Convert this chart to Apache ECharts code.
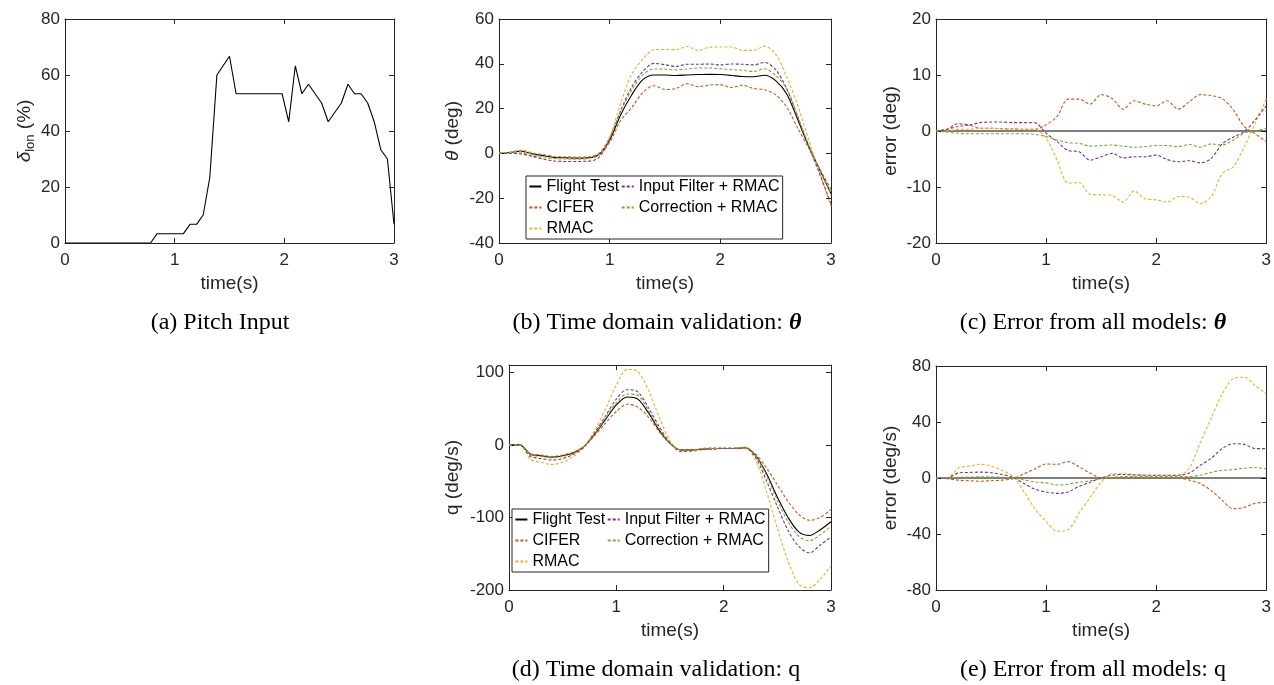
<!DOCTYPE html>
<html>
<head>
<meta charset="utf-8">
<script src="https://cdn.jsdelivr.net/npm/echarts@6/dist/echarts.min.js"></script>
<style>html,body{margin:0;padding:0;background:#fff}#c{width:1274px;height:685px}</style>
</head>
<body>
<div id="c"></div>
<script>
// ---------- DATA ----------
// (a) pitch input
const tA = [0, 0.78, 0.84, 1.08, 1.14, 1.2, 1.26, 1.32, 1.385, 1.5, 1.56, 1.98, 2.04, 2.1, 2.16, 2.22, 2.34, 2.4, 2.52, 2.58, 2.64, 2.7, 2.76, 2.82, 2.88, 2.94, 3.0];
const dLon = [0, 0, 3.33, 3.33, 6.67, 6.67, 10, 23.3, 60, 66.7, 53.3, 53.3, 43.3, 63.3, 53.3, 56.7, 50, 43.3, 50, 56.7, 53.3, 53.3, 50, 43.3, 33.3, 30, 6.7];

// common time base for (b)-(e)
const T = [0, 0.1, 0.2, 0.3, 0.4, 0.5, 0.6, 0.7, 0.8, 0.9, 1.0, 1.1, 1.2, 1.3, 1.4, 1.5, 1.6, 1.7, 1.8, 1.9, 2.0, 2.1, 2.2, 2.3, 2.4, 2.5, 2.6, 2.7, 2.8, 2.9, 3.0];

// (b) theta (deg)
const thFlight = [0, 0.4, 1.0, -0.2, -1.0, -1.8, -2.0, -2.1, -2.0, -0.6, 6.0, 17.3, 26.2, 32.9, 35.0, 35.0, 34.8, 35.0, 35.2, 35.3, 35.2, 34.8, 34.3, 34.2, 34.9, 32.5, 26.5, 15.0, 3.0, -7.5, -18.0];
const thCifer  = [0, 0.2, 0.2, -1.2, -1.5, -2.3, -2.4, -2.5, -2.3, -0.9, 4.9, 14.7, 20.5, 27.2, 30.2, 28.5, 29.0, 31.1, 29.8, 30.5, 30.7, 29.4, 30.4, 29.0, 28.4, 26.2, 20.7, 11.2, 2.2, -7.0, -16.1];
const thRmac   = [0, 0.4, 0.7, -0.5, -1.5, -2.3, -2.4, -2.5, -2.3, -0.9, 7.3, 22.5, 35.5, 42.1, 46.3, 46.4, 46.3, 47.7, 45.9, 47.4, 47.5, 47.5, 46.0, 46.0, 47.9, 44.2, 34.1, 21.4, 5.8, -8.9, -23.7];
const thInput  = [0, 0.1, -0.3, -1.3, -2.5, -3.4, -3.6, -3.6, -3.5, -2.0, 6.4, 19.2, 29.7, 36.6, 40.2, 39.6, 38.8, 39.8, 39.8, 39.9, 39.5, 39.9, 39.8, 39.5, 40.6, 37.4, 28.8, 16.1, 3.1, -9.5, -22.5];
const thCorr   = [0, 0.6, 1.4, 0.3, -0.5, -1.3, -1.5, -1.6, -1.5, 0.0, 7.0, 18.9, 28.3, 35.1, 37.7, 37.6, 37.3, 37.7, 38.1, 38.1, 37.8, 37.4, 37.1, 36.6, 37.8, 34.8, 29.0, 16.6, 3.4, -7.5, -18.5];

// (c) theta error (deg)
const tZero = [0, 3];
const zeroErr = [0, 0];
const eThCifer = [0, 0.3, 0.8, 1.0, 0.5, 0.5, 0.4, 0.35, 0.3, 0.3, 1.1, 2.6, 5.7, 5.7, 4.8, 6.5, 5.8, 3.9, 5.4, 4.8, 4.5, 5.4, 3.9, 5.2, 6.5, 6.3, 5.8, 3.8, 0.8, -0.5, -1.9];
const eThRmac  = [0, 0, 0.3, 0.3, 0.5, 0.5, 0.4, 0.4, 0.3, 0.3, -1.3, -5.2, -9.3, -9.2, -11.3, -11.4, -11.5, -12.7, -10.7, -12.1, -12.3, -12.7, -11.7, -11.8, -13.0, -11.7, -7.6, -6.4, -2.8, 1.4, 5.7];
const eThInput = [0, 0.3, 1.3, 1.1, 1.5, 1.6, 1.6, 1.5, 1.5, 1.45, -0.4, -1.9, -3.5, -3.7, -5.2, -4.6, -4.0, -4.8, -4.6, -4.6, -4.3, -5.1, -5.5, -5.3, -5.7, -4.9, -2.3, -1.1, -0.1, 2.0, 4.5];
const eThCorr  = [0, -0.2, -0.4, -0.5, -0.5, -0.5, -0.5, -0.5, -0.5, -0.6, -1.0, -1.6, -2.1, -2.2, -2.7, -2.6, -2.5, -2.7, -2.9, -2.8, -2.6, -2.6, -2.8, -2.4, -2.9, -2.3, -2.5, -1.6, -0.4, 0.0, 0.5];

// (d) q (deg/s)
const qFlight = [0, 0, -13, -15, -17, -15, -11, -2, 15, 35, 55, 66, 63, 44, 20, 2, -7, -7, -6, -5, -5, -5, -4, -15, -40, -72, -100, -120, -125, -117, -106];
const qCifer  = [0, 0, -12, -14, -16, -14, -10, -2, 13, 30, 46, 56, 52, 38, 18, 2, -7, -7, -6, -5, -5, -5, -4, -13, -32, -55, -78, -96, -104, -100, -89];
const qRmac   = [0, 0, -20, -24, -27, -24, -16, -3, 20, 50, 82, 104, 101, 75, 38, 6, -9, -9, -7, -5, -5, -5, -4, -22, -65, -115, -160, -192, -197, -185, -167];
const qInput  = [0, 0, -16, -19, -21, -19, -13, -3, 17, 40, 63, 76, 73, 51, 25, 3, -9, -8, -6, -6, -5, -5, -4, -18, -50, -85, -118, -140, -149, -138, -127];
const qCorr   = [0, 0, -14, -16, -18, -16, -12, -2, 16, 37, 58, 70, 68, 47, 22, 2, -7, -7, -5, -4, -4, -4, -3, -16, -43, -76, -106, -126, -132, -124, -112];

// (e) q error (deg/s)
const eqCifer = [0, -0.5, -1.5, -2, -2.3, -2, -1.5, -0.5, 3, 6.5, 10, 9.8, 11.7, 8, 3.5, 0, -0.2, 0, 0, 0, 0, 0, 0, -1.5, -4, -9, -16, -22, -21, -18, -17.5];
const eqRmac  = [0, 0, 7, 8.5, 9.8, 8.5, 5.5, 1, -10, -22, -31, -38, -37, -25, -14, -3, 3, 3, 2.5, 2, 2, 2, 2, 7, 25, 43, 60, 71, 72, 66, 60];
const eqInput = [0, 0, 3.5, 4, 4.2, 3.8, 2.5, 0.5, -4, -8, -10, -11, -10, -6, -3, 0, 2, 2.5, 2.2, 2, 2, 2, 2, 3.5, 9, 14, 21, 24.5, 24, 21, 21];
const eqCorr  = [0, 0, 0.5, 0.7, 0.8, 0.8, 0.5, 0, -1.5, -2.8, -3.5, -5, -4.5, -3, -2, -0.5, 0.5, 1, 1, 1, 1, 1, 1, 1, 2, 4, 5.5, 6, 7, 7.5, 6.5];

const names = ['Flight Test', 'CIFER', 'RMAC', 'Input Filter + RMAC', 'Correction + RMAC'];
const xTicks = {min: 0, max: 3, interval: 1};
const yA = {min: 0, max: 80, interval: 20};
const yB = {min: -40, max: 60, interval: 20};
const yC = {min: -20, max: 20, interval: 10};
const yD = {min: -200, max: 110, interval: 100};
const yE = {min: -80, max: 80, interval: 40};

// ---------- STYLE / LAYOUT ----------
const FF = '"Liberation Sans", Arial, Helvetica, sans-serif';
const SERIF = '"Liberation Serif", "Times New Roman", serif';
const AX = '#262626';
const COLORS = ['#000000', '#D95319', '#EDB120', '#7E2F8E', '#77AC30'];
const grids = [
  {left: 65,  top: 19,  width: 329, height: 224},
  {left: 499, top: 19,  width: 332, height: 224},
  {left: 936, top: 19,  width: 331, height: 224},
  {left: 509, top: 365, width: 322, height: 225},
  {left: 936, top: 366, width: 331, height: 224}
];

function pairs(t, v) { return t.map((x, i) => [x, v[i]]); }

const lineAx = {show: true, onZero: false, lineStyle: {color: AX, width: 1}};
const tickAx = {show: true, inside: true, length: 5, lineStyle: {color: AX, width: 1}};

const xAxis = [], yAxis = [];
const yRanges = [yA, yB, yC, yD, yE];
const yNames = ['{d|δ}{s|lon} (%)', '{d|θ} (deg)', 'error (deg)', 'q (deg/s)', 'error (deg/s)'];
const yGaps = [23, 34, 33, 44, 33];
grids.forEach((g, i) => {
  xAxis.push({type: 'value', gridIndex: i, position: 'bottom', ...xTicks,
    axisLine: lineAx, axisTick: tickAx, splitLine: {show: false},
    axisLabel: {color: AX, fontSize: 17, fontFamily: FF, margin: 9},
    name: 'time(s)', nameLocation: 'middle', nameGap: 31,
    nameTextStyle: {color: AX, fontSize: 19, fontFamily: FF}});
  xAxis.push({type: 'value', gridIndex: i, position: 'top', ...xTicks,
    axisLine: lineAx, axisTick: tickAx, splitLine: {show: false}, axisLabel: {show: false}});
  yAxis.push({type: 'value', gridIndex: i, position: 'left', ...yRanges[i],
    axisLine: lineAx, axisTick: tickAx, splitLine: {show: false},
    axisLabel: {color: AX, fontSize: 17, fontFamily: FF, margin: 5, showMaxLabel: i !== 3},
    name: yNames[i], nameLocation: 'middle', nameGap: yGaps[i],
    nameTextStyle: {color: AX, fontSize: 19, fontFamily: FF, lineHeight: 24,
      rich: {d: {fontStyle: 'italic', fontSize: 19, fontFamily: FF, color: AX},
             s: {fontSize: 13, lineHeight: 13, verticalAlign: 'bottom', fontFamily: FF, color: AX}}}});
  yAxis.push({type: 'value', gridIndex: i, position: 'right', ...yRanges[i],
    axisLine: lineAx, axisTick: tickAx, splitLine: {show: false}, axisLabel: {show: false}});
});

function mk(name, gi, t, v, ci, smooth) {
  return {
    name: name, type: 'line', xAxisIndex: 2 * gi, yAxisIndex: 2 * gi,
    data: pairs(t, v), symbol: 'none', showSymbol: false, smooth: smooth ? 0.3 : false,
    animation: false, silent: true,
    lineStyle: ci === 0 ? {color: '#000', width: 1.1, type: 'solid'}
                        : {color: COLORS[ci], width: 1.1, type: [3, 2]},
    itemStyle: {color: COLORS[ci]}
  };
}

const series = [
  mk('δlon', 0, tA, dLon, 0, false),
  mk(names[0], 1, T, thFlight, 0, true),
  mk(names[1], 1, T, thCifer, 1, true),
  mk(names[2], 1, T, thRmac, 2, true),
  mk(names[3], 1, T, thInput, 3, true),
  mk(names[4], 1, T, thCorr, 4, true),
  mk('errθ ' + names[0], 2, tZero, zeroErr, 0, false),
  mk('errθ ' + names[1], 2, T, eThCifer, 1, true),
  mk('errθ ' + names[2], 2, T, eThRmac, 2, true),
  mk('errθ ' + names[3], 2, T, eThInput, 3, true),
  mk('errθ ' + names[4], 2, T, eThCorr, 4, true),
  mk(names[0], 3, T, qFlight, 0, true),
  mk(names[1], 3, T, qCifer, 1, true),
  mk(names[2], 3, T, qRmac, 2, true),
  mk(names[3], 3, T, qInput, 3, true),
  mk(names[4], 3, T, qCorr, 4, true),
  mk('errq ' + names[0], 4, tZero, zeroErr, 0, false),
  mk('errq ' + names[1], 4, T, eqCifer, 1, true),
  mk('errq ' + names[2], 4, T, eqRmac, 2, true),
  mk('errq ' + names[3], 4, T, eqInput, 3, true),
  mk('errq ' + names[4], 4, T, eqCorr, 4, true)
];

function legendAt(left, top) {
  return {
    data: names, left: left, top: top, orient: 'vertical', height: 64,
    itemGap: 0, itemWidth: 12, itemHeight: 21, padding: [0, 3, 0, 1],
    borderColor: AX, borderWidth: 1, borderRadius: 0, backgroundColor: '#fff',
    itemStyle: {opacity: 0}, selectedMode: false,
    textStyle: {fontSize: 16, fontFamily: FF, color: '#000', lineHeight: 21}
  };
}

function caption(x, y, text) {
  return {type: 'text', x: x, y: y, silent: true,
    style: {text: text, fontSize: 24, fontFamily: SERIF, fill: '#000', align: 'center', verticalAlign: 'middle',
      rich: {t: {fontSize: 24, fontFamily: SERIF, fontStyle: 'italic', fontWeight: 'bold', fill: '#000'}}}};
}

const chart = echarts.init(document.getElementById('c'), null, {renderer: 'canvas'});
chart.setOption({
  animation: false,
  backgroundColor: '#fff',
  grid: grids,
  xAxis: xAxis,
  yAxis: yAxis,
  legend: [legendAt(526, 176), legendAt(512, 509)],
  series: series,
  graphic: [
    caption(220, 323, '(a) Pitch Input'),
    caption(657, 323, '(b) Time domain validation: {t|θ}'),
    caption(1093, 323, '(c) Error from all models: {t|θ}'),
    caption(656, 670, '(d) Time domain validation: q'),
    caption(1093, 670, '(e) Error from all models: q')
  ]
});
</script>
</body>
</html>
